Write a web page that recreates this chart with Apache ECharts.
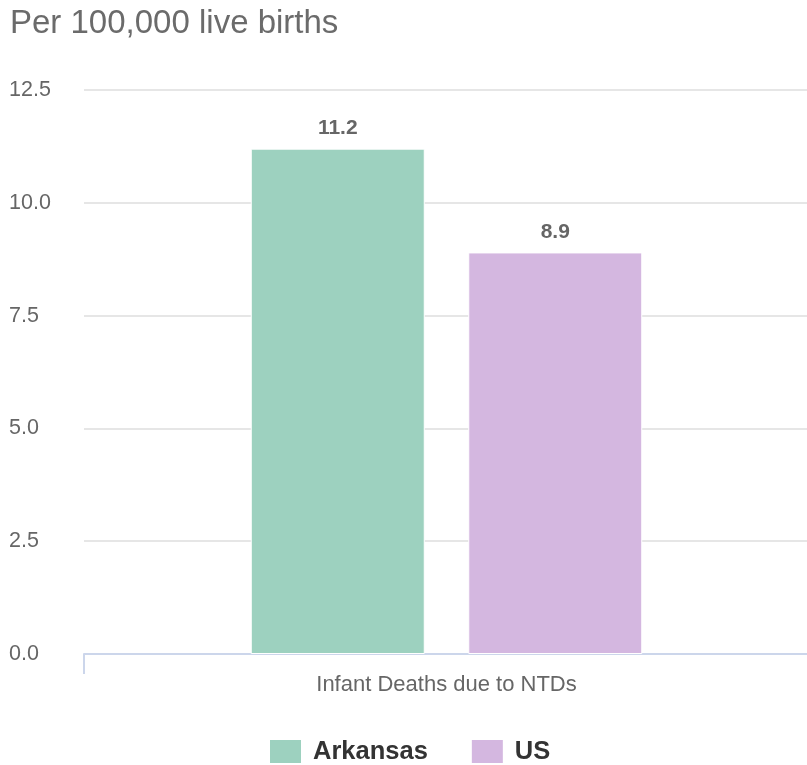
<!DOCTYPE html>
<html>
<head>
<meta charset="utf-8">
<script src="https://cdn.jsdelivr.net/npm/echarts@6/dist/echarts.min.js"></script>
<style>html,body{margin:0;padding:0;background:#fff}#c{width:807px;height:765px}</style>
</head>
<body>
<div id="c"></div>
<script>
const categories = ["Infant Deaths due to NTDs"];
const seriesNames = ["Arkansas", "US"];
const arkansasValues = [11.2];
const usValues = [8.9];
const yTicks = [0, 2.5, 5, 7.5, 10, 12.5];
const titleText = "Per 100,000 live births";

const chart = echarts.init(document.getElementById('c'));
const font = '"Liberation Sans", Arial, sans-serif';
chart.setOption({
  animation: false,
  title: {
    text: titleText, left: 5, top: 2,
    textStyle: { color: '#6b6b6b', fontSize: 33, fontWeight: 'normal', fontFamily: font }
  },
  legend: {
    top: 733, left: 263, itemWidth: 33, itemHeight: 25, itemGap: 42,
    icon: 'rect',
    textStyle: { color: '#333', fontSize: 25.5, fontWeight: 'bold', fontFamily: font, padding: [0, 0, 0, 6] },
    data: seriesNames
  },
  grid: { left: 84, width: 725, top: 90, bottom: 111, containLabel: false, outerBoundsMode: 'none' },
  xAxis: {
    type: 'category', data: categories,
    axisLine: { lineStyle: { color: '#ccd6eb', width: 2 } },
    axisTick: { show: true, length: 20, lineStyle: { color: '#ccd6eb', width: 2 } },
    axisLabel: { color: '#666', fontSize: 22, margin: 20, fontFamily: font }
  },
  yAxis: {
    type: 'value', min: yTicks[0], max: yTicks[yTicks.length - 1], interval: yTicks[1] - yTicks[0],
    axisLine: { show: false }, axisTick: { show: false },
    splitLine: { lineStyle: { color: '#e6e6e6', width: 2 } },
    axisLabel: { color: '#666', fontSize: 21.5, align: 'left', margin: 75, fontFamily: font,
      formatter: v => v.toFixed(1) }
  },
  series: [
    {
      name: seriesNames[0], type: 'bar', data: arkansasValues, barWidth: 174, barGap: '25%',
      itemStyle: { color: '#9dd1bf', borderColor: '#fff', borderWidth: 1 },
      label: { show: true, position: 'top', distance: 10, color: '#666', fontWeight: 'bold', fontSize: 21, fontFamily: font,
        formatter: p => p.value.toFixed(1) }
    },
    {
      name: seriesNames[1], type: 'bar', data: usValues, barWidth: 174,
      itemStyle: { color: '#d4b7e0', borderColor: '#fff', borderWidth: 1 },
      label: { show: true, position: 'top', distance: 10, color: '#666', fontWeight: 'bold', fontSize: 21, fontFamily: font,
        formatter: p => p.value.toFixed(1) }
    }
  ]
});
</script>
</body>
</html>
